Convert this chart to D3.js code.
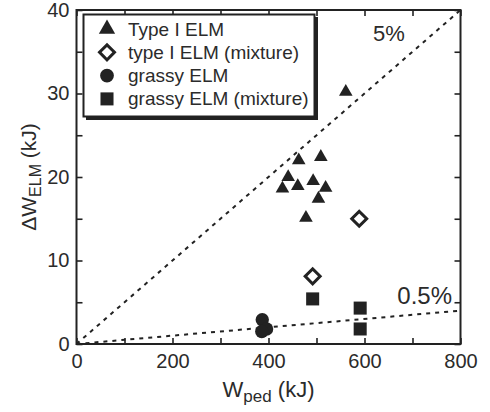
<!DOCTYPE html>
<html><head><meta charset="utf-8">
<script src="https://cdn.jsdelivr.net/npm/d3@7"></script>
<style>
html,body{margin:0;padding:0;background:#fff;}
svg{display:block;font-family:"Liberation Sans",Arial,sans-serif;}
</style></head>
<body><svg id="chart" width="490" height="412"></svg>
<script>
// ---- data ----
const typeI_W  = [561, 463, 509, 441, 429, 461, 493, 519, 504, 478];
const typeI_dW = [30.2, 22.0, 22.4, 20.0, 18.6, 18.9, 19.5, 18.7, 17.4, 15.1];
const typeIMix_W  = [589, 492];
const typeIMix_dW = [15.0, 8.1];
const grassy_W  = [387, 396, 386];
const grassy_dW = [2.9, 1.8, 1.5];
const grassyMix_W  = [492, 591, 591];
const grassyMix_dW = [5.4, 4.3, 1.8];
const fractions = [0.05, 0.005];
const fractionLabels = ["5%", "0.5%"];
const xTicks = [0,100,200,300,400,500,600,700,800];
const yTicks = [0,5,10,15,20,25,30,35,40];
const legendLabels = ["Type I ELM", "type I ELM (mixture)", "grassy ELM", "grassy ELM (mixture)"];

const svg = d3.select("#chart");
const m = {l:76.5, t:10, r:29.5, b:68};
const W = 490 - m.l - m.r, H = 412 - m.t - m.b;
const g = svg.append("g").attr("transform", `translate(${m.l},${m.t})`);
const x = d3.scaleLinear().domain([0,800]).range([0,W]);
const y = d3.scaleLinear().domain([0,40]).range([H,0]);
const ink = "#222";
const txt = "#2b2b2b";
const tl = 6;

// axes (inward ticks on all sides)
const fx = d => d % 200 === 0 ? d : "";
const fy = d => d % 10 === 0 ? d : "";
function styleAxis(sel){
  sel.select(".domain").remove();
  sel.selectAll(".tick line").attr("stroke", ink).attr("stroke-width", 1.6);
  sel.selectAll(".tick text").attr("fill", txt).style("font-size","20px");
}
g.append("g").attr("transform",`translate(0,${H})`)
  .call(d3.axisBottom(x).tickValues(xTicks).tickFormat(fx).tickSize(-tl).tickPadding(10))
  .call(styleAxis);
g.append("g")
  .call(d3.axisTop(x).tickValues(xTicks).tickFormat("").tickSize(-tl)).call(styleAxis);
g.append("g")
  .call(d3.axisLeft(y).tickValues(yTicks).tickFormat(fy).tickSize(-tl).tickPadding(7))
  .call(styleAxis);
g.append("g").attr("transform",`translate(${W},0)`)
  .call(d3.axisRight(y).tickValues(yTicks).tickFormat("").tickSize(-tl)).call(styleAxis);

// frame
g.append("rect").attr("width",W).attr("height",H).attr("fill","none")
  .attr("stroke",ink).attr("stroke-width",2);

// reference lines
fractions.forEach((f,i)=>{
  g.append("line").attr("x1",x(0)).attr("y1",y(0)).attr("x2",x(800)).attr("y2",y(800*f))
    .attr("stroke",ink).attr("stroke-width",2).attr("stroke-dasharray","4,5");
});
g.append("text").attr("x",x(0)+296.5).attr("y",30.7).attr("fill",txt)
  .style("font-size","22px").text(fractionLabels[0]);
g.append("text").attr("x",x(0)+375.5).attr("y",294.3).attr("fill",txt).attr("text-anchor","end")
  .style("font-size","24px").text(fractionLabels[1]);

// symbols
const tri = d3.symbol().type(d3.symbolTriangle);
const sq = d3.symbol().type(d3.symbolSquare);
const circ = d3.symbol().type(d3.symbolCircle);
function drawTri(sel, size){ return sel.append("path").attr("d", tri.size(size)()).attr("fill",ink); }
function drawDia(sel, size){ return sel.append("path").attr("d", sq.size(size)())
  .attr("fill","#fff").attr("stroke",ink).attr("stroke-width",3); }
function drawCirc(sel, size){ return sel.append("path").attr("d", circ.size(size)()).attr("fill",ink); }
function drawSq(sel, size){ return sel.append("path").attr("d", sq.size(size)()).attr("fill",ink); }

function plot(xs, ys, fn, size, rot){
  xs.forEach((xv,i)=>{
    const p = g.append("g").attr("transform",`translate(${x(xv)},${y(ys[i])})${rot?" rotate(45)":""}`);
    fn(p, size);
  });
}
plot(grassy_W, grassy_dW, drawCirc, 140);
plot(grassyMix_W, grassyMix_dW, drawSq, 170);
plot(typeIMix_W, typeIMix_dW, drawDia, 112, true);
plot(typeI_W, typeI_dW, drawTri, 80);

// legend
const lg = svg.append("g");
lg.append("rect").attr("x",86).attr("y",17).attr("width",232).attr("height",103).attr("fill",ink);
lg.append("rect").attr("x",83.5).attr("y",14.5).attr("width",231).attr("height",102)
  .attr("fill","#fff").attr("stroke",ink).attr("stroke-width",2);
const lfns = [drawTri, drawDia, drawCirc, drawSq];
const lsizes = [115, 112, 150, 170];
legendLabels.forEach((t,i)=>{
  const cy = 29 + i*23.3;
  const p = lg.append("g").attr("transform",`translate(107,${cy})${i===1?" rotate(45)":""}`);
  lfns[i](p, lsizes[i]);
  lg.append("text").attr("x",128).attr("y",cy+6.5).attr("fill",txt)
    .style("font-size","19px").text(t);
});

// axis titles
const xt = svg.append("text").attr("x", m.l + W/2).attr("y",396.5).attr("text-anchor","middle")
  .attr("fill",txt).style("font-size","22px");
xt.append("tspan").text("W");
xt.append("tspan").attr("dy",5).style("font-size","17px").text("ped");
xt.append("tspan").attr("dy",-5).text(" (kJ)");

const yt = svg.append("text").attr("transform",`translate(36,${m.t + H/2}) rotate(-90)`)
  .attr("text-anchor","middle").attr("fill",txt).style("font-size","21px");
yt.append("tspan").text("ΔW");
yt.append("tspan").attr("dy",5).style("font-size","16px").text("ELM");
yt.append("tspan").attr("dy",-5).text(" (kJ)");
</script></body></html>
